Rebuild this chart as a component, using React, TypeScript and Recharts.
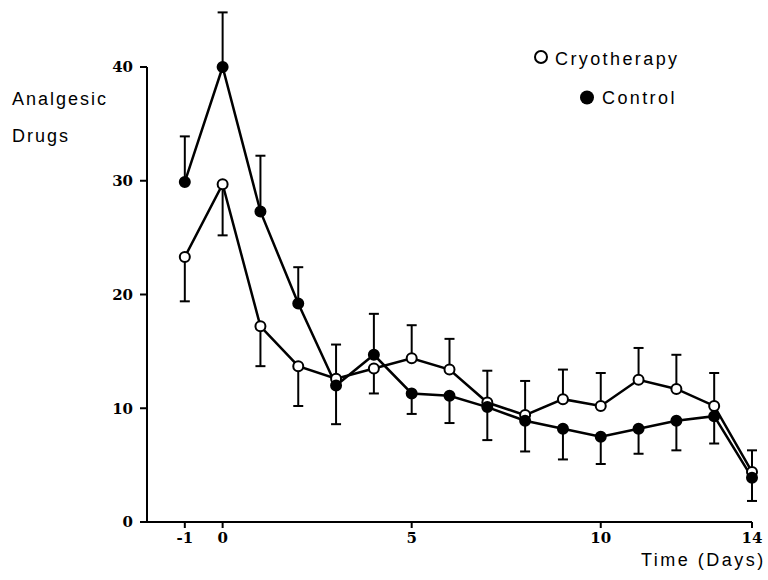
import React from 'react';
import { LineChart, Line, XAxis, YAxis, ErrorBar, ReferenceLine } from 'recharts';

// days after treatment
const days = [-1, 0, 1, 2, 3, 4, 5, 6, 7, 8, 9, 10, 11, 12, 13, 14];

// cryotherapy group (open circles)
const cryo = [23.3, 29.7, 17.2, 13.7, 12.6, 13.5, 14.4, 13.4, 10.5, 9.4, 10.8, 10.2, 12.5, 11.7, 10.2, 4.4];
const cryoErrLow = [3.9, 4.5, 3.5, 3.5, 0, 2.2, 0, 0, 0, 0, 0, 0, 0, 0, 0, 0];
const cryoErrHigh = [0, 0, 0, 0, 3.0, 0, 2.9, 2.7, 2.8, 3.0, 2.6, 2.9, 2.8, 3.0, 2.9, 1.9];

// control group (filled circles)
const control = [29.9, 40.0, 27.3, 19.2, 12.0, 14.7, 11.3, 11.1, 10.1, 8.9, 8.2, 7.5, 8.2, 8.9, 9.3, 3.9];
const controlErrLow = [0, 0, 0, 0, 3.4, 0, 1.8, 2.4, 2.9, 2.7, 2.7, 2.4, 2.2, 2.6, 2.4, 2.05];
const controlErrHigh = [4.0, 4.8, 4.9, 3.2, 0, 3.6, 0, 0, 0, 0, 0, 0, 0, 0, 0, 0];

const xTicks = [-1, 0, 5, 10, 14];
const yTicks = [0, 10, 20, 30, 40];

const data = days.map((d, i) => ({
  day: d,
  cryo: cryo[i],
  cryoErr: [cryoErrLow[i], cryoErrHigh[i]],
  control: control[i],
  controlErr: [controlErrLow[i], controlErrHigh[i]],
}));

const tickStyle = { fontFamily: 'DejaVu Serif', fontWeight: 'bold', fontSize: 15, fill: '#000' };
const labelFont = { fontFamily: 'Liberation Sans, Arial, sans-serif', fontSize: 18, fill: '#000', letterSpacing: 2 };

export default function App() {
  return (
    <div style={{ position: 'absolute', left: 0, top: 0, width: 768, height: 580, background: '#fff' }}>
      <LineChart width={768} height={580} data={data} margin={{ top: 5, right: 16, bottom: 28, left: 87 }}>
        <XAxis
          dataKey="day"
          type="number"
          domain={[-2, 14]}
          ticks={xTicks}
          tick={tickStyle}
          tickSize={6}
          tickMargin={4}
          height={30}
          stroke="#000"
          strokeWidth={2}
          tickFormatter={(v) => String(v)}
        />
        <YAxis
          type="number"
          domain={[0, 45.45]}
          ticks={yTicks}
          tick={tickStyle}
          tickSize={7}
          tickMargin={7}
          width={60}
          axisLine={false}
          tickLine={{ stroke: '#000', strokeWidth: 2 }}
        />
        <ReferenceLine
          segment={[{ x: -2, y: 0 }, { x: -2, y: 40 }]}
          stroke="#000"
          strokeWidth={2}
        />
        <Line
          dataKey="cryo"
          stroke="#000"
          strokeWidth={2.5}
          dot={{ r: 5, fill: '#fff', stroke: '#000', strokeWidth: 2 }}
          isAnimationActive={false}
        >
          <ErrorBar dataKey="cryoErr" direction="y" width={5} stroke="#000" strokeWidth={2} />
        </Line>
        <Line
          dataKey="control"
          stroke="#000"
          strokeWidth={2.5}
          dot={{ r: 5, fill: '#000', stroke: '#000', strokeWidth: 2 }}
          isAnimationActive={false}
        >
          <ErrorBar dataKey="controlErr" direction="y" width={5} stroke="#000" strokeWidth={2} />
        </Line>
      </LineChart>
      <svg width={768} height={580} style={{ position: 'absolute', left: 0, top: 0, pointerEvents: 'none' }}>
        <text x={12} y={105} style={labelFont}>Analgesic</text>
        <text x={12} y={142} style={labelFont}>Drugs</text>
        <circle cx={541} cy={57} r={6} fill="#fff" stroke="#000" strokeWidth={2} />
        <text x={555} y={65} style={{ ...labelFont, letterSpacing: 2.4 }}>Cryotherapy</text>
        <circle cx={587} cy={97.5} r={7} fill="#000" />
        <text x={602} y={104} style={{ ...labelFont, letterSpacing: 2.4 }}>Control</text>
        <text x={641} y={566} style={{ ...labelFont, letterSpacing: 2.5 }}>Time (Days)</text>
      </svg>
    </div>
  );
}
